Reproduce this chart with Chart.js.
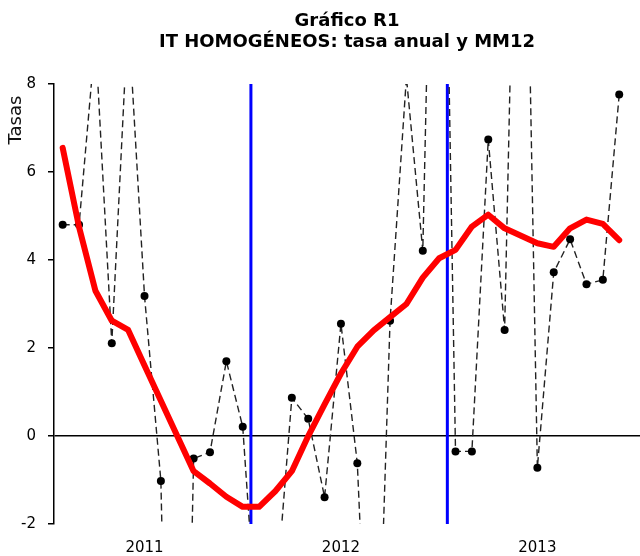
<!DOCTYPE html>
<html><head><meta charset="utf-8">
<script src="https://cdn.jsdelivr.net/npm/chart.js@4"></script>
<style>html,body{margin:0;padding:0;background:#fff}#wrap{width:640px;height:556px}</style>
</head><body><div id="wrap"><canvas id="c" width="640" height="556"></canvas></div>
<script>
const meses = ['ene 2011','feb 2011','mar 2011','abr 2011','may 2011','jun 2011','jul 2011','ago 2011','sep 2011','oct 2011','nov 2011','dic 2011',
               'ene 2012','feb 2012','mar 2012','abr 2012','may 2012','jun 2012','jul 2012','ago 2012','sep 2012','oct 2012','nov 2012','dic 2012',
               'ene 2013','feb 2013','mar 2013','abr 2013','may 2013','jun 2013','jul 2013','ago 2013','sep 2013','oct 2013','nov 2013'];
const tasaAnual = [4.80, 4.80, 9.05, 2.11, 9.6, 3.18, -1.02, -18, -0.51, -0.37, 1.70, 0.21,
                   -5.2, -3.8, 0.87, 0.39, -1.39, 2.55, -0.62, -9, 2.62, 8.15, 4.21, 21,
                   -0.35, -0.35, 6.74, 2.41, 19.5, -0.72, 3.72, 4.47, 3.45, 3.55, 7.76];
const mm12 = [6.55, 4.75, 3.3, 2.62, 2.41, 1.6, 0.8, 0.0, -0.8, -1.08, -1.38, -1.61,
              -1.61, -1.25, -0.8, 0.0, 0.72, 1.42, 2.03, 2.4, 2.7, 3.0, 3.6, 4.04,
              4.23, 4.76, 5.03, 4.72, 4.55, 4.38, 4.3, 4.72, 4.92, 4.82, 4.45];
const anios = ['2011', '2012', '2013'];
const titulo = ['Gráfico R1', 'IT HOMOGÉNEOS: tasa anual y MM12'];
const ejeY = 'Tasas';

const puntos = arr => arr.map((v, i) => ({x: i, y: v}));
const posAnios = anios.map(a => meses.indexOf('jun ' + a));
const cortes = anios.slice(1).map(a => meses.indexOf('ene ' + a) - 0.5);
const FONT = "'DejaVu Sans', Verdana, sans-serif";

const tituloEje = {
  id: 'tituloEje',
  afterDraw(chart) {
    const ctx = chart.ctx, a = chart.chartArea;
    ctx.save();
    ctx.font = '18px ' + FONT;
    ctx.fillStyle = '#111';
    ctx.translate(a.left - 38, a.top + 36);
    ctx.rotate(-Math.PI / 2);
    ctx.textAlign = 'center';
    ctx.textBaseline = 'middle';
    ctx.fillText(ejeY, 0, 0);
    ctx.restore();
  }
};

new Chart(document.getElementById('c'), {
  type: 'line',
  data: {
    datasets: [
      {label: 'MM12', data: puntos(mm12), borderColor: '#ff0000', borderWidth: 6, pointRadius: 0,
       borderJoinStyle: 'round', borderCapStyle: 'round', tension: 0, order: 0},
      {label: 'Tasa anual', data: puntos(tasaAnual), borderColor: '#222', borderWidth: 1.4, borderDash: [7, 4],
       pointRadius: 4, pointBackgroundColor: '#000', pointBorderColor: '#000', pointBorderWidth: 0, tension: 0, order: 1},
      ...cortes.map(c => ({label: 'corte', data: [{x: c, y: -2}, {x: c, y: 8}], borderColor: '#0000ff',
        borderWidth: 3, pointRadius: 0, order: 2}))
    ]
  },
  options: {
    responsive: false,
    animation: false,
    layout: {padding: 0, autoPadding: false},
    plugins: {
      legend: {display: false},
      tooltip: {enabled: false},
      title: {display: true, text: titulo, fullSize: false, color: '#000',
        font: {family: FONT, size: 18, weight: 'bold', lineHeight: 1.17},
        padding: {top: 11, bottom: 30.9}}
    },
    scales: {
      x: {
        type: 'linear', min: -0.53, max: 35.27,
        border: {display: false},
        grid: {display: false, drawTicks: false},
        afterBuildTicks: s => { s.ticks = posAnios.map(v => ({value: v})); },
        afterFit: s => { s.height = 32; s.paddingLeft = 0; s.paddingRight = 0; },
        ticks: {autoSkip: false, maxRotation: 0, padding: 15, color: '#000',
          font: {family: FONT, size: 15}, callback: (v, i) => anios[i]}
      },
      y: {
        min: -2, max: 8,
        border: {display: true, color: '#000', width: 1.5},
        grid: {color: c => (c.tick && c.tick.value === 0) ? '#000' : 'rgba(0,0,0,0)',
          lineWidth: 1.5, tickColor: '#000', tickWidth: 1.5, tickLength: 6, drawTicks: true},
        afterFit: s => { s.width = 54; s.paddingTop = 0; s.paddingBottom = 0; },
        ticks: {stepSize: 2, padding: 12, color: '#000', font: {family: FONT, size: 15}}
      }
    }
  },
  plugins: [tituloEje]
});
</script>
</body></html>
